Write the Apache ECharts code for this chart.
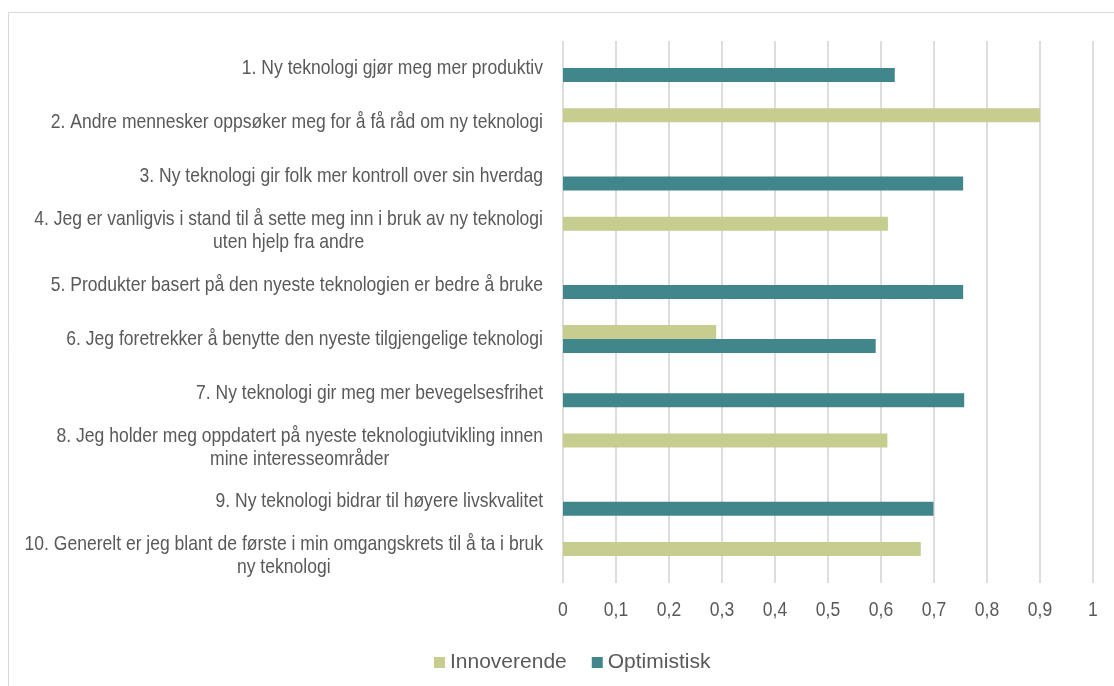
<!DOCTYPE html>
<html>
<head>
<meta charset="utf-8">
<script src="https://cdn.jsdelivr.net/npm/echarts@6/dist/echarts.min.js"></script>
<style>
  html, body { margin: 0; padding: 0; background: #ffffff; }
  #chart { width: 1114px; height: 686px; }
</style>
</head>
<body>
<div id="chart"></div>
<script>
// Survey statements (top to bottom)
const categories = [
  '1. Ny teknologi gjør meg mer produktiv',
  '2. Andre mennesker oppsøker meg for å få råd om ny teknologi',
  '3. Ny teknologi gir folk mer kontroll over sin hverdag',
  '4. Jeg er vanligvis i stand til å sette meg inn i bruk av ny teknologi\nuten hjelp fra andre',
  '5. Produkter basert på den nyeste teknologien er bedre å bruke',
  '6. Jeg foretrekker å benytte den nyeste tilgjengelige teknologi',
  '7. Ny teknologi gir meg mer bevegelsesfrihet',
  '8. Jeg holder meg oppdatert på nyeste teknologiutvikling innen\nmine interesseområder',
  '9. Ny teknologi bidrar til høyere livskvalitet',
  '10. Generelt er jeg blant de første i min omgangskrets til å ta i bruk\nny teknologi'
];

// Share per statement for each group
const innoverende = [null, 0.900, null, 0.613, null, 0.289, null, 0.612, null, 0.675];
const optimistisk = [0.626, null, 0.755, null, 0.755, 0.590, 0.757, null, 0.699, null];

const seriesNames = ['Innoverende', 'Optimistisk'];

const baseFont = "'Liberation Sans', Arial, sans-serif";
const textColor = '#595959';
// Horizontal squeeze that turns the regular sans into a narrow cut for axis labels
const NARROW = 0.835;

const chart = echarts.init(document.getElementById('chart'), null, { renderer: 'canvas' });

const tickFormatter = v => String(Math.round(v * 10) / 10).replace('.', ',');

chart.setOption({
  animation: false,
  backgroundColor: '#ffffff',
  graphic: [{
    type: 'rect',
    shape: { x: 8.5, y: 12.5, width: 1200, height: 1000 },
    style: { fill: 'none', stroke: '#d9d9d9', lineWidth: 1 },
    silent: true,
    z: -10
  }],
  grid: { left: 563, right: 21, top: 41, bottom: 103, containLabel: false, outerBoundsMode: 'none' },
  legend: {
    data: seriesNames,
    left: 429,
    top: 647,
    itemWidth: 11,
    itemHeight: 11,
    itemGap: 25,
    icon: 'rect',
    textStyle: {
      fontFamily: baseFont,
      fontSize: 21,
      color: textColor
    }
  },
  xAxis: {
    type: 'value',
    min: 0,
    max: 1,
    interval: 0.1,
    axisLine: { show: false },
    axisTick: { show: false },
    splitLine: { show: true, lineStyle: { color: '#d9d9d9', width: 1.75 } },
    axisLabel: {
      margin: 17,
      fontFamily: baseFont,
      fontSize: 21,
      color: textColor,
      formatter: tickFormatter
    }
  },
  yAxis: {
    type: 'category',
    inverse: true,
    data: categories,
    axisLine: { show: false },
    axisTick: { show: false },
    splitLine: { show: false },
    axisLabel: {
      interval: 0,
      margin: 20,
      align: 'right',
      fontFamily: baseFont,
      fontSize: 21,
      lineHeight: 23,
      color: textColor,
      formatter: v => v.split('\n').map(l => '{c|' + l + '}').join('\n'),
      rich: {
        c: {
          align: 'center',
          fontFamily: baseFont,
          fontSize: 21,
          lineHeight: 23,
          color: textColor
        }
      }
    }
  },
  series: [
    {
      name: seriesNames[0],
      type: 'bar',
      data: innoverende,
      barWidth: 14,
      barGap: '0%',
      itemStyle: { color: '#c6cd8f' }
    },
    {
      name: seriesNames[1],
      type: 'bar',
      data: optimistisk,
      barWidth: 14,
      barGap: '0%',
      itemStyle: { color: '#40868a' }
    }
  ]
});

// Narrow the axis label texts around their anchor points
function condenseAxisLabels() {
  const zr = chart.getZr();
  const isTick = t => /^\d(,\d)?$/.test(t);
  const isCategory = t => t.indexOf('{c|') === 0;
  zr.storage.getRoots().forEach(root => {
    const visit = el => {
      if (el.type === 'text' && el.style && typeof el.style.text === 'string') {
        const t = el.style.text;
        if (isTick(t) || isCategory(t)) {
          el.scaleX = NARROW;
          el.markRedraw();
        }
      }
    };
    visit(root);
    if (root.traverse) root.traverse(visit);
  });
  zr.refresh();
}
condenseAxisLabels();
chart.on('finished', condenseAxisLabels);
</script>
</body>
</html>
